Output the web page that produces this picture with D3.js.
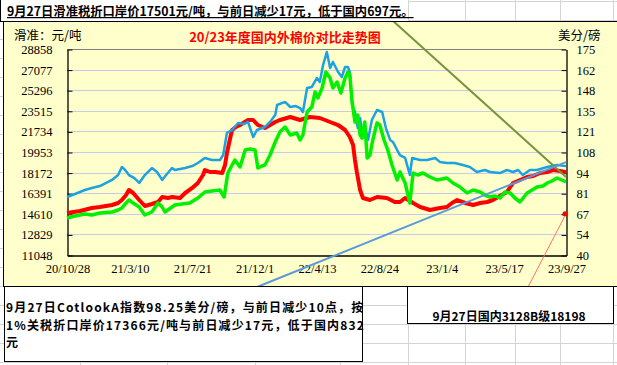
<!DOCTYPE html>
<html><head><meta charset="utf-8">
<script src="https://cdn.jsdelivr.net/npm/d3@7"></script>
<style>body{margin:0;background:#fff;} svg{display:block;}</style>
</head><body>
<script>
// ---------- data ----------
const startDate = "2020-10-28";
const tickLabels = ["20/10/28","21/3/10","21/7/21","21/12/1","22/4/13","22/8/24","23/1/4","23/5/17","23/9/27"];
const leftTicks = [11048,12829,14610,16391,18172,19953,21734,23515,25296,27077,28858];
const rightTicks = [40,53.5,67,80.5,94,107.5,121,134.5,148,161.5,175];

// Cotlook A index (美分/磅, right axis)
const cotlookDays = [0,17,38,53,70,96,109,117,124,132,143,154,166,181,192,203,213,224,230,252,267,279,294,309,326,333,341,352,365,377,386,397,405,422,433,444,448,465,476,488,497,503,512,522,533,539,546,554,561,567,578,586,593,599,603,608,614,620,625,631,638,642,650,661,672,680,689,695,704,710,721,731,736,753,768,785,795,810,827,844,859,874,891,902,923,938,951,962,972,987,1002,1024,1045,1064];
const cotlookValues = [78.0,80.0,82.6,83.9,85.2,89.2,92.4,97.7,95.7,92.4,90.5,87.2,92.4,97.0,94.4,89.2,93.1,97.0,95.7,97.0,98.3,100.3,103.6,102.3,102.3,105.5,120.0,121.9,126.5,125.8,127.2,117.3,121.9,123.9,127.2,131.7,138.3,140.3,137.0,137.6,136.3,133.7,149.4,150.1,156.0,153.4,164.5,173.0,162.5,166.5,159.9,156.7,163.2,163.2,159.9,138.3,133.7,123.2,129.8,116.7,120.6,115.4,128.5,135.0,133.7,123.2,115.4,114.1,108.8,105.5,103.6,92.4,103.6,102.3,102.3,103.6,101.0,100.3,100.3,99.0,97.7,94.4,95.7,94.4,93.7,95.7,94.4,95.7,92.4,95.7,95.7,97.7,99.0,98.25];

// 国内3128B (元/吨, left axis)
const domesticDays = [0,28,53,70,96,109,117,126,132,141,154,166,181,194,203,215,224,241,252,267,279,290,294,305,316,331,337,341,348,352,360,369,386,397,407,422,433,444,454,476,497,518,539,561,578,593,603,610,614,618,625,631,646,661,682,699,710,721,738,753,774,795,810,821,832,849,866,881,896,908,923,938,951,966,981,994,1009,1024,1036,1051,1064];
const domesticValues = [14679,14852,15111,15198,15371,15544,15803,16235,16668,16408,15803,15284,15457,15630,16062,15976,16062,15976,16408,16841,17273,17964,18397,18224,18224,18137,18829,19867,21163,21855,22114,22287,22720,22720,22287,22028,22287,22547,22720,22979,22720,22979,22893,22547,22287,21855,21250,20558,19261,18224,16668,15976,15803,16062,15976,15630,15630,15976,15544,15198,14939,15111,15198,15544,15803,15544,15371,15544,15630,15803,16149,16495,17273,17532,17792,17878,18137,18224,18397,18310,18198];

// 1%关税折口岸价 (元/吨, left axis)
const importDays = [0,17,38,53,70,96,109,117,126,132,141,154,166,181,194,203,209,224,230,245,262,279,294,309,326,335,343,352,358,369,380,390,401,407,416,422,433,444,454,465,476,490,497,503,512,522,529,535,544,552,561,567,576,584,593,599,603,608,614,620,625,629,635,640,646,652,661,667,676,684,693,704,710,721,727,731,738,748,759,774,789,810,823,838,853,866,881,891,902,913,923,934,945,955,966,981,992,1002,1015,1024,1034,1045,1055,1064];
const importValues = [14247,14420,14593,14506,14679,14766,14939,15111,15544,15803,15544,15198,14506,14766,15544,15198,14766,15198,15371,15457,15544,15976,16495,16581,16668,16062,18137,18829,19261,18656,20126,20212,20126,18570,18743,18829,19694,20818,21682,22114,21423,21596,20990,21423,23411,23843,25140,24622,25486,26870,26351,25486,26005,25054,26351,26870,26610,24276,22547,23152,21423,21163,22547,19434,19694,20990,22460,22287,20990,20126,18829,17532,18224,17273,16235,15544,18137,17964,18137,17792,17532,17705,17273,16927,16408,16668,16495,16235,16062,16149,15976,16495,16408,15976,15630,16408,16668,16927,17013,17273,17446,17705,17532,17366];

const titleText = "20/23年度国内外棉价对比走势图";
const leftTitle = "滑准：元/吨";
const rightTitle = "美分/磅";
const topNote = "9月27日滑准税折口岸价17501元/吨，与前日减少17元，低于国内697元。";
const bottomNote = ["9月27日CotlookA指数98.25美分/磅，与前日减少10点，按","1%关税折口岸价17366元/吨与前日减少17元，低于国内832","元"];
const rightNote = "9月27日国内3128B级18198";

// ---------- drawing ----------
const W = 617, H = 365;
const plot = {l:67, r:566, t:49, b:255};
const svg = d3.select("body").append("svg").attr("width", W).attr("height", H);
const cjk = "'Noto Sans CJK SC','Noto Sans',sans-serif";
const num = "'Liberation Serif','Times New Roman',serif";

// excel-like cell grid
const rowsY = d3.range(1, 365, 19);
const colsX = [80,167,255,340,408,465,515,560,613];
svg.append("g").selectAll("line.r").data(rowsY).join("line")
  .attr("x1",0).attr("x2",W).attr("y1",d=>d+0.5).attr("y2",d=>d+0.5).attr("stroke","#d4d4d4");
svg.append("g").selectAll("line.c").data(colsX).join("line")
  .attr("x1",d=>d+0.5).attr("x2",d=>d+0.5).attr("y1",0).attr("y2",H).attr("stroke","#d4d4d4");

// chart area
svg.append("rect").attr("x",3.5).attr("y",21.5).attr("width",W+10).attr("height",265)
  .attr("fill","#ffffcc").attr("stroke","#000").attr("stroke-width",1);

const parse = d3.timeParse("%Y-%m-%d");
const parseTick = d3.timeParse("%y/%m/%d");
const t0 = parse(startDate);
const dayToDate = d => d3.timeDay.offset(t0, d);
const tickDates = tickLabels.map(parseTick);

const x = d3.scaleTime().domain([t0, tickDates[tickDates.length-1]]).range([plot.l, plot.r]);
const yL = d3.scaleLinear().domain([leftTicks[0], leftTicks[leftTicks.length-1]]).range([plot.b, plot.t]);
const yR = d3.scaleLinear().domain([rightTicks[0], rightTicks[rightTicks.length-1]]).range([plot.b, plot.t]);

// gridlines
svg.append("g").selectAll("line").data(leftTicks.slice(1,-1)).join("line")
  .attr("x1",plot.l).attr("x2",plot.r).attr("y1",d=>Math.round(yL(d))+0.5).attr("y2",d=>Math.round(yL(d))+0.5)
  .attr("stroke","#c6cdea").attr("stroke-width",1);
// top border of plot
svg.append("line").attr("x1",plot.l).attr("x2",plot.r).attr("y1",plot.t+0.5).attr("y2",plot.t+0.5).attr("stroke","#808080");

// axes
const gL = svg.append("g").attr("transform",`translate(${plot.l+0.5},0.5)`)
  .call(d3.axisLeft(yL).tickValues(leftTicks).tickSizeInner(-5).tickSizeOuter(0).tickPadding(15).tickFormat(d3.format("d")));
const gR = svg.append("g").attr("transform",`translate(${plot.r+0.5},0.5)`)
  .call(d3.axisRight(yR).tickValues(rightTicks).tickSizeInner(-5).tickSizeOuter(0).tickPadding(10).tickFormat(d=>String(Math.round(d))));
const gB = svg.append("g").attr("transform",`translate(0.5,${plot.b+0.5})`)
  .call(d3.axisBottom(x).tickValues(tickDates).tickSize(0).tickPadding(9).tickFormat((d,i)=>tickLabels[i]));
[gL,gR,gB].forEach(g=>{
  g.selectAll("text").attr("font-family",num).attr("font-size",12.5).attr("fill","#000");
  g.select(".domain").attr("stroke","#000").attr("stroke-width",1.3);
  g.selectAll(".tick line").attr("stroke","#000");
});

// series
const lineL = d3.line().x(d=>x(dayToDate(d[0]))).y(d=>yL(d[1]));
const lineR = d3.line().x(d=>x(dayToDate(d[0]))).y(d=>yR(d[1]));
const zip = (a,b)=>a.map((v,i)=>[v,b[i]]);
svg.append("path").datum(zip(domesticDays,domesticValues)).attr("d",lineL)
  .attr("fill","none").attr("stroke","#ff0000").attr("stroke-width",4).attr("stroke-linejoin","round");
svg.append("path").datum(zip(cotlookDays,cotlookValues)).attr("d",lineR)
  .attr("fill","none").attr("stroke","#1ca2e2").attr("stroke-width",2.5).attr("stroke-linejoin","round");
svg.append("path").datum(zip(importDays,importValues)).attr("d",lineL)
  .attr("fill","none").attr("stroke","#00f000").attr("stroke-width",3.5).attr("stroke-linejoin","round");

// titles
svg.append("text").attr("x",285).attr("y",41.5).attr("text-anchor","middle")
  .attr("font-family",cjk).attr("font-weight","bold").attr("font-size",13).attr("fill","#ff0000").text(titleText);
svg.append("text").attr("x",14).attr("y",40).attr("font-family",cjk).attr("font-size",12.5).text(leftTitle);
svg.append("text").attr("x",558).attr("y",40).attr("font-family",cjk).attr("font-size",12.5).text(rightTitle);

// callout lines (positioned at the series end values)
const endX = x(dayToDate(cotlookDays[cotlookDays.length-1]));
svg.append("line").attr("x1",392).attr("y1",20).attr("x2",endX).attr("y2",177)
  .attr("stroke","#77933c").attr("stroke-width",2);
svg.append("line").attr("x1",257).attr("y1",287).attr("x2",endX).attr("y2",yR(cotlookValues[cotlookValues.length-1])-4)
  .attr("stroke","#5a9ad8").attr("stroke-width",2);
svg.append("line").attr("x1",528).attr("y1",287).attr("x2",endX).attr("y2",yR(67))
  .attr("stroke","#ff7070").attr("stroke-width",1);
svg.append("circle").attr("cx",endX-1).attr("cy",yR(67)).attr("r",2.5).attr("fill","#ff0000");

// text boxes
svg.append("rect").attr("x",0).attr("y",0).attr("width",408).attr("height",21).attr("fill","#fff");
svg.append("line").attr("x1",0.5).attr("x2",0.5).attr("y1",0).attr("y2",21).attr("stroke","#000");
svg.append("text").attr("x",7).attr("y",16).attr("font-family",cjk).attr("font-weight","bold")
  .attr("font-size",12.3).attr("text-decoration","underline").text(topNote);
svg.append("line").attr("x1",0).attr("x2",W).attr("y1",21.5).attr("y2",21.5).attr("stroke","#000");

svg.append("rect").attr("x",4.5).attr("y",286.5).attr("width",358).attr("height",75)
  .attr("fill","#fff").attr("stroke","#000");
svg.append("g").selectAll("text").data(bottomNote).join("text")
  .attr("x",6).attr("y",(d,i)=>312+i*17.5).attr("font-family",cjk).attr("font-weight","bold")
  .attr("font-size",12).attr("letter-spacing",1.15).text(d=>d);

svg.append("rect").attr("x",407.5).attr("y",286.5).attr("width",206).attr("height",37)
  .attr("fill","#fff").attr("stroke","#000");
svg.append("text").attr("x",509).attr("y",321).attr("text-anchor","middle").attr("font-family",cjk)
  .attr("font-weight","bold").attr("font-size",12).text(rightNote);
</script>
</body></html>
